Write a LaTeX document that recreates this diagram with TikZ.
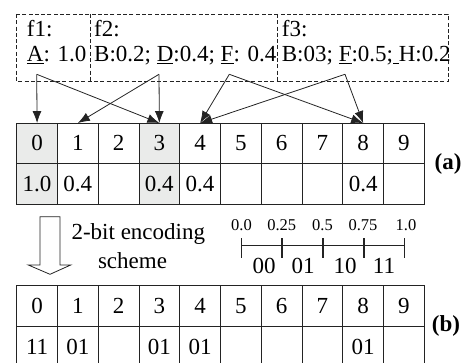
\documentclass[tikz,border=0pt]{standalone}
\usepackage{fontspec}
\setmainfont{Liberation Serif}
\usetikzlibrary{arrows.meta}
\definecolor{cellgray}{RGB}{234,235,234}
\definecolor{linec}{RGB}{35,35,35}
\begin{document}
\begin{tikzpicture}[x=1pt,y=-1pt,
  cell/.style={draw=linec, line width=0.9pt, minimum width=40.76pt, minimum height=40.5pt,
    inner sep=0pt, outer sep=0pt, anchor=center, font=\fontsize{23}{25}\selectfont},
  arr/.style={draw=linec, line width=0.8pt, -{Latex[length=12pt,width=9pt]}},
  txt/.style={font=\fontsize{23}{25}\selectfont, inner sep=0pt, anchor=base west},
  ctxt/.style={font=\fontsize{23}{25}\selectfont, inner sep=0pt, anchor=base},
  small/.style={font=\fontsize{16.5}{18}\selectfont, inner sep=0pt, anchor=base},
  lbl/.style={font=\fontsize{23}{25}\selectfont\bfseries, inner sep=0pt, anchor=base},
  dashbox/.style={draw=linec, line width=0.8pt, dash pattern=on 4pt off 2.3pt}]
\useasboundingbox (0,0) rectangle (470,363);
\clip (0,0) rectangle (470,363);

% dashed feature boxes
\draw[dashbox] (16.7,14) rectangle (448.3,81.7);
\draw[dashbox] (90,14) -- (90,81.7);
\draw[dashbox] (277.7,14) -- (277.7,81.7);

\node[txt] (f1) at (26.7,37) {f1:};
\node[txt] (f1v) at (26.7,62) {\underline{A}: 1.0};
\node[txt] (f2) at (94,37) {f2:};
\node[txt] (f2v) at (94,62) {B:0.2; \underline{D}:0.4; \underline{F}: 0.4};
\node[txt] (f3) at (281.7,37) {f3:};
\node[txt] (f3v) at (281.7,62) {B:03; \underline{F}:0.5;\underline{\ }H:0.2};

% grid (a)
\foreach \i/\v/\f in {0/1.0/cellgray,1/0.4/white,2/{}/white,3/0.4/cellgray,4/0.4/white,
                      5/{}/white,6/{}/white,7/{}/white,8/0.4/white,9/{}/white} {
  \node[cell, fill=\f] (a\i) at ({16.7+40.76*(\i+0.5)},143.3) {\i};
  \node[cell, fill=\f] (av\i) at ({16.7+40.76*(\i+0.5)},183.8) {\v};
}
\node[lbl] (la) at (448,170) {(a)};

% arrows
\coordinate (sA) at (36.7,74.3);
\coordinate (sD) at (159,74.3);
\coordinate (sF) at (229.3,74.3);
\coordinate (sG) at (345,74.3);
\draw[arr] (sA) -- (a0.north);
\draw[arr] (sA) -- (a3.north);
\draw[arr] (sD) -- (a1.north);
\draw[arr] (sD) -- (a3.north);
\draw[arr] (sF) -- (a4.north);
\draw[arr] (sF) -- (a8.north);
\draw[arr] (sG) -- (a4.north);
\draw[arr] (sG) -- (a8.north);

% hollow arrow
\draw[draw=linec, line width=0.8pt, fill=white]
  (40,216.7) -- (60,216.7) -- (60,265) -- (70.7,265) -- (50,274.3) -- (28.3,265) -- (40,265) -- cycle;
\node[ctxt] (enc1) at (138.3,239) {2-bit encoding};
\node[ctxt] (enc2) at (132.5,268.3) {scheme};

% scale
\coordinate (t0) at (241.7,245.5);
\coordinate (t1) at (282,245.5);
\coordinate (t2) at (323,245.5);
\coordinate (t3) at (364,245.5);
\coordinate (t4) at (404.5,245.5);
\draw[draw=linec, line width=1.5pt] (t0) -- (t4);
\foreach \t in {t0,t1,t2,t3,t4} {
  \draw[draw=linec, line width=1.5pt] ([yshift=7.5pt]\t) -- ([yshift=-12.5pt]\t);
}
\node[small] (s0) at (241.5,230) {0.0};
\node[small] (s1) at (281.7,230) {0.25};
\node[small] (s2) at (322.5,230) {0.5};
\node[small] (s3) at (363,230) {0.75};
\node[small] (s4) at (406,230) {1.0};
\node[ctxt] (c0) at (264,273.3) {00};
\node[ctxt] (c1) at (303,273.3) {01};
\node[ctxt] (c2) at (345,273.3) {10};
\node[ctxt] (c3) at (384,273.3) {11};

% grid (b)
\foreach \i/\v in {0/11,1/01,2/{},3/01,4/01,5/{},6/{},7/{},8/01,9/{}} {
  \node[cell] (b\i) at ({16.7+40.76*(\i+0.5)},306) {\i};
  \node[cell] (bv\i) at ({16.7+40.76*(\i+0.5)},346.5) {\v};
}
\node[lbl] (lb) at (446,331) {(b)};
\end{tikzpicture}
\end{document}
